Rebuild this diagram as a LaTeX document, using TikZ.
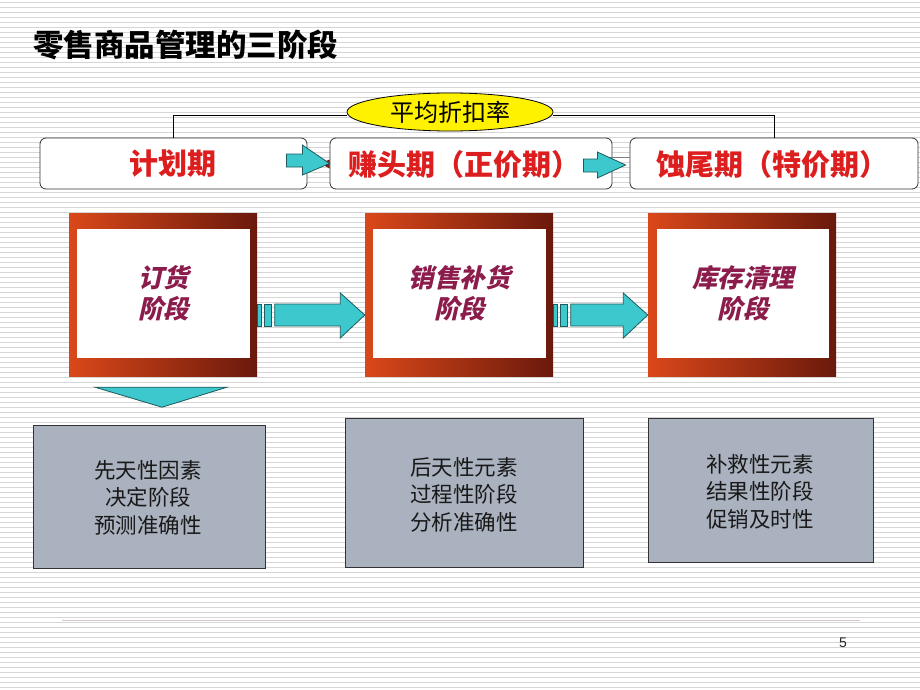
\documentclass[tikz,border=0pt]{standalone}
\usepackage{fontspec}
\setmainfont{Noto Sans CJK SC}
\newfontfamily\cjk{Noto Sans CJK SC}
\newfontfamily\cjkslant[FakeSlant=0.22]{Noto Sans CJK SC}
\setsansfont{Liberation Sans}
\usetikzlibrary{calc,shapes.geometric}
\definecolor{bgline}{HTML}{D6D6D6}
\definecolor{cyanfill}{HTML}{3CC8CC}
\definecolor{cyanline}{HTML}{1E5A5E}
\definecolor{frameA}{HTML}{DA481A}
\definecolor{frameM}{HTML}{C23C16}
\definecolor{frameB}{HTML}{6A190C}
\definecolor{stagetext}{HTML}{8C1C4C}
\definecolor{redtext}{HTML}{DC1E1E}
\definecolor{grayfill}{HTML}{A9B2BE}
\definecolor{grayedge}{HTML}{333333}
\definecolor{footline}{HTML}{DCC4C4}
\tikzset{
  phasebox/.style={draw=grayedge, fill=white, rounded corners=6pt, line width=0.8pt, inner sep=0pt},
  phasetext/.style={text=redtext, font=\cjk\bfseries\fontsize{29}{32}\selectfont},
  frameouter/.style={left color=frameA, middle color=frameM, right color=frameB, inner sep=0pt},
  frameinner/.style={fill=white, inner sep=0pt, align=center, text=stagetext, font=\cjkslant\bfseries\fontsize{25.5}{31}\selectfont},
  infobox/.style={draw=grayedge, fill=grayfill, line width=0.8pt, inner sep=0pt},
  infotext/.style={align=center, font=\cjk\fontsize{21.5}{27.5}\selectfont, text=black!90},
  cyanshape/.style={fill=cyanfill, draw=cyanline, line width=0.8pt, line join=miter},
  link/.style={draw=black, line width=0.7pt}
}
\begin{document}
\begin{tikzpicture}[x=1pt,y=-1pt]
\useasboundingbox (0,0) rectangle (920,690);
\fill[white] (0,0) rectangle (920,690);
\foreach \yy in {2,7,...,690} \draw[bgline, line width=0.8pt] (0,\yy) -- (920,\yy);

% title
\node[anchor=west, inner sep=0pt, font=\cjk\bfseries\fontsize{30.5}{33}\selectfont] (title) at (33,45) {零售商品管理的三阶段};

% ellipse
\node[ellipse, draw=black, fill=yellow, line width=0.8pt, minimum width=206, minimum height=38, inner sep=0pt,
      font=\cjk\fontsize{24}{26}\selectfont] (avg) at (450,112) {平均折扣率};

% phase boxes
\node[phasebox, minimum width=267, minimum height=51] (p1) at (173.5,163.5) {};
\node[phasebox, minimum width=282, minimum height=51] (p2) at (471,163.5) {};
\node[phasebox, minimum width=288, minimum height=51] (p3) at (774,163.5) {};
\node[phasetext] (p1t) at (173,164) {计划期};
\node[phasetext] (p2t) at (464,164) {赚头期（正价期）};
\node[phasetext] (p3t) at (772,164) {蚀尾期（特价期）};

% connectors from ellipse
\coordinate (al) at ($(avg.west)+(0,3)$);
\coordinate (ar) at ($(avg.east)+(0,3)$);
\draw[link] (al) -| (p1.north);
\draw[link] (ar) -| ($(p3.north west)+(145,0)$);

% small gray line between p2 and p3
\draw[gray, line width=0.6pt] ($(p2.east)+(-5,-6.5)$) -- ($(p3.west)+(0,-6.5)$);
% dark red remnant near p2
\fill[frameB] ($(p2.west)+(-9,0)$) -- ($(p2.west)+(0,-4)$) -- ($(p2.west)+(0,5)$) -- cycle;

% small cyan arrows
\draw[cyanshape] ($(p1.east)+(-21,-9.5)$) -- ($(p1.east)+(-5,-9.5)$) -- ($(p1.east)+(-5,-18.5)$)
  -- (p2.west) -- ($(p1.east)+(-5,11.5)$) -- ($(p1.east)+(-5,3.5)$) -- ($(p1.east)+(-21,3.5)$) -- cycle;
\draw[cyanshape] ($(p2.east)+(-29,-4.5)$) -- ($(p2.east)+(-15,-4.5)$) -- ($(p2.east)+(-15,-11.5)$)
  -- ($(p3.west)+(-4,1.5)$) -- ($(p2.east)+(-15,14.5)$) -- ($(p2.east)+(-15,8.5)$) -- ($(p2.east)+(-29,8.5)$) -- cycle;

% stage frames
\node[frameouter, minimum width=188, minimum height=163] (f1) at (163,294.5) {};
\node[frameouter, minimum width=188, minimum height=163] (f2) at (459,294.5) {};
\node[frameouter, minimum width=188, minimum height=163] (f3) at (742,294.5) {};
\node[frameinner, minimum width=173, minimum height=129] (s1) at (163.5,293.5) {订货\\阶段};
\node[frameinner, minimum width=173, minimum height=129] (s2) at (459.5,293.5) {销售补货\\阶段};
\node[frameinner, minimum width=172, minimum height=129] (s3) at (743,293.5) {库存清理\\阶段};

% big arrows between frames
\foreach \a/\b in {f1/f2, f2/f3} {
  \draw[cyanshape] ($(\a.east)+(0.5,9.5)$) rectangle ($(\a.east)+(4,31.5)$);
  \draw[cyanshape] ($(\a.east)+(7,9.5)$) rectangle ($(\a.east)+(14.5,31.5)$);
  \draw[cyanshape] ($(\a.east)+(17.5,9.5)$) -- ($(\b.west)+(-24.5,9.5)$) -- ($(\b.west)+(-24.5,-1.5)$)
    -- ($(\b.west)+(0,20.5)$) -- ($(\b.west)+(-24.5,43.5)$) -- ($(\b.west)+(-24.5,31.5)$)
    -- ($(\a.east)+(17.5,31.5)$) -- cycle;
}

% down chevron below first frame
\draw[cyanshape] ($(f1.south)+(-68,11)$) -- ($(f1.south)+(64,11)$) -- ($(f1.south)+(-1,31)$) -- cycle;

% info boxes
\node[infobox, minimum width=232, minimum height=143] (b1) at (149,496.5) {};
\node[infobox, minimum width=238, minimum height=149] (b2) at (464,492.5) {};
\node[infobox, minimum width=225, minimum height=144] (b3) at (760.5,490) {};
\node[infotext] (b1t) at (148,497.5) {先天性因素\\决定阶段\\预测准确性};
\node[infotext] (b2t) at (464,494.5) {后天性元素\\过程性阶段\\分析准确性};
\node[infotext] (b3t) at (760,491.5) {补救性元素\\结果性阶段\\促销及时性};

% footer
\coordinate (fl) at (62,620);
\coordinate (fr) at (860,620);
\draw[footline, line width=1pt] (fl) -- (fr);
\node[font=\sffamily\fontsize{14}{16}\selectfont, text=black!85] (pg) at (843,643) {5};
\end{tikzpicture}
\end{document}
